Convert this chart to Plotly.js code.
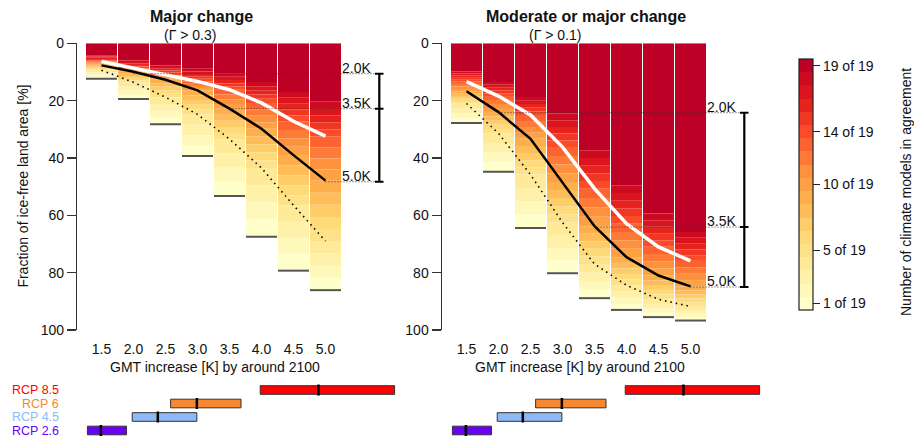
<!DOCTYPE html>
<html>
<head>
<meta charset="utf-8">
<script src="https://cdn.plot.ly/plotly-3.0.1.min.js"></script>
<style>html,body{margin:0;padding:0;background:#fff;}#chart{width:914px;height:441px;}</style>
</head>
<body>
<div id="chart"></div>
<script>
// ---------------- DATA ----------------
const gmt = [1.5, 2.0, 2.5, 3.0, 3.5, 4.0, 4.5, 5.0];
const gmtLabels = ['1.5', '2.0', '2.5', '3.0', '3.5', '4.0', '4.5', '5.0'];
const agreeLevels = [19,18,17,16,15,14,13,12,11,10,9,8,7,6,5,4,3,2,1];
const agreeTickVals = [1, 5, 10, 14, 19];
const agreeTickText = ['1 of 19', '5 of 19', '10 of 19', '14 of 19', '19 of 19'];

// Depth (fraction of land area, %) down to which at least k of 19 models agree (k = 19..1), per GMT column
const majorDepth = [
  [4.2,4.6,5.0,5.5,5.9,6.3,6.7,7.0,7.4,7.7,8.0,8.4,8.7,9.1,9.4,10.2,10.9,11.7,12.4],
  [6.0,6.5,7.0,7.6,8.1,8.6,8.9,9.3,9.6,9.9,10.6,11.4,12.1,12.9,13.6,15.1,16.5,18.0,19.4],
  [7.7,8.3,8.9,9.5,10.1,10.7,11.2,11.7,12.2,12.7,13.9,15.1,16.4,17.6,18.8,21.2,23.5,25.9,28.2],
  [8.9,9.8,10.7,11.5,12.4,13.3,14.1,14.9,15.6,16.4,18.1,19.8,21.4,23.1,24.8,28.4,32.1,35.7,39.3],
  [10.6,11.7,12.8,14.0,15.1,16.2,17.9,19.5,21.2,22.8,24.9,27.0,29.2,31.3,33.4,38.4,43.4,48.3,53.3],
  [13.5,15.0,16.4,17.9,19.3,20.8,23.1,25.3,27.6,29.8,32.5,35.3,38.0,40.8,43.5,49.5,55.5,61.5,67.5],
  [17.0,19.0,21.1,23.1,25.2,27.2,30.2,33.1,36.1,39.0,42.5,46.0,49.5,53.0,56.5,62.2,67.9,73.6,79.3],
  [20.2,22.6,25.1,27.5,30.0,32.4,36.3,40.2,44.0,47.9,52.1,56.3,60.6,64.8,69.0,73.3,77.6,81.8,86.1]
];
const modDepth = [
  [9.8,10.5,11.2,12.0,12.7,13.4,14.2,15.1,15.9,16.7,17.6,18.4,19.3,20.1,21.0,22.7,24.4,26.1,27.8],
  [13.5,14.5,15.5,16.4,17.4,18.4,19.8,21.2,22.6,24.0,25.5,27.0,28.4,29.9,31.4,34.8,38.1,41.5,44.8],
  [18.7,20.0,21.2,22.5,23.7,25.0,27.1,29.2,31.2,33.3,35.8,38.3,40.8,43.3,45.8,50.5,55.1,59.8,64.4],
  [24.5,26.8,29.2,31.5,33.9,36.2,39.3,42.3,45.4,48.4,51.2,54.0,56.9,59.7,62.5,66.9,71.4,75.8,80.2],
  [37.3,40.0,42.7,45.3,48.0,50.7,54.0,57.2,60.5,63.8,66.4,69.1,71.7,74.4,77.0,80.0,82.9,85.9,88.9],
  [49.5,52.2,54.9,57.5,60.2,62.9,65.8,68.7,71.7,74.6,76.6,78.5,80.5,82.4,84.4,86.6,88.7,90.9,93.0],
  [59.4,61.7,64.0,66.4,68.7,71.0,73.5,76.0,78.5,81.0,82.7,84.3,86.0,87.6,89.3,90.9,92.4,94.0,95.5],
  [65.8,67.8,69.9,71.9,73.9,75.9,78.1,80.4,82.6,84.8,86.2,87.6,89.0,90.4,91.8,93.0,94.2,95.5,96.7]
];

const majorWhite  = [6.3, 8.6, 10.7, 13.3, 16.2, 20.8, 27.2, 32.4];
const majorBlack  = [7.7, 9.9, 12.7, 16.4, 22.8, 29.8, 39.0, 47.9];
const majorDotted = [9.4, 13.6, 18.8, 24.8, 33.4, 43.5, 56.5, 69.0];
const modWhite    = [13.4, 18.4, 25.0, 36.2, 50.7, 62.9, 71.0, 75.9];
const modBlack    = [16.7, 24.0, 33.3, 48.4, 63.8, 74.6, 81.0, 84.8];
const modDotted   = [21.0, 31.4, 45.8, 62.5, 77.0, 84.4, 89.3, 91.8];

const levelGmt = [2.0, 3.5, 5.0];
const levelLabels = ['2.0K', '3.5K', '5.0K'];
const majorLevels = [10.6, 22.8, 48.3];
const modLevels = [24.2, 64.1, 85.0];

const rcpNames = ['RCP 2.6', 'RCP 4.5', 'RCP 6', 'RCP 8.5'];
const rcpLow  = [1.28, 1.98, 2.58, 3.98];
const rcpHigh = [1.89, 2.99, 3.68, 6.08];
const rcpMid  = [1.49, 2.38, 2.99, 4.89];
const rcpColors = ['#6A00F5', '#8DBAF7', '#F8882F', '#FF0000'];

// ---------------- STYLE ----------------
const FONT = 'Liberation Sans, Arial, Helvetica, sans-serif';
const W = 914, H = 441;
const palette = ['#FFFFCC','#FFEDA0','#FED976','#FEB24C','#FD8D3C','#FC4E2A','#E31A1C','#BD0026'];
function hex2rgb(h){return [parseInt(h.slice(1,3),16),parseInt(h.slice(3,5),16),parseInt(h.slice(5,7),16)];}
function ramp(t){
  const s = t*(palette.length-1); const i = Math.min(Math.floor(s), palette.length-2); const f = s-i;
  const a = hex2rgb(palette[i]), b = hex2rgb(palette[i+1]);
  return 'rgb(' + a.map((v,j)=>Math.round(v+(b[j]-v)*f)).join(',') + ')';
}
const colorscale = [];
for (let i = 0; i < 19; i++) { const c = ramp(i/18); colorscale.push([i/19, c]); colorscale.push([(i+1)/19, c]); }

const xL = 1.5 - (101.5-77)/64, xR = 1.5 + (400-101.5)/64;
const xL2 = 1.5 - (466.5-441.7)/64;
const yDom = [1-330/H, 1-43.3/H];
const bDom = [1-437.25/H, 1-383.25/H];
const brX = 1.5 + (379.3-101.5)/64;
const brX0 = 1.5 + (375-101.5)/64;
const brX1 = 1.5 + (383.5-101.5)/64;
const lblX = 1.5 + (373-101.5)/64;

function bandTrace(depths, xa, ya, showscale){
  const x=[], base=[], y=[], c=[];
  depths.forEach((col, j) => col.forEach((d, i) => {
    const top = i === 0 ? 0 : col[i-1];
    x.push(gmt[j]); base.push(top); y.push(d - top); c.push(agreeLevels[i]);
  }));
  return {type:'bar', x, y, base, width: 31/64, xaxis: xa, yaxis: ya, hoverinfo:'skip', showlegend:false,
    marker:{color:c, colorscale, cmin:0.5, cmax:19.5, line:{width:0}, showscale,
      colorbar: {x: 799/W, xanchor:'left', xpad:0, ypad:0, thickness:13.7, thicknessmode:'pixels',
        len:251, lenmode:'pixels', y: 1-184.5/H, yanchor:'middle', outlinewidth:1.2, outlinecolor:'#222',
        tickvals: agreeTickVals, ticktext: agreeTickText, ticks:'outside', ticklen:7, tickcolor:'#222',
        tickfont:{family:FONT, size:14, color:'#111'}}}};
}
function panelTraces(depths, white, black, dotted, levels, xa, ya, showscale){
  const tr = [bandTrace(depths, xa, ya, showscale)];
  tr.push({type:'scatter', mode:'markers', x: gmt, y: depths.map(c=>c[c.length-1]), xaxis:xa, yaxis:ya,
    marker:{symbol:'line-ew', size:31/1.4, line:{width:2, color:'#555'}}, hoverinfo:'skip', showlegend:false});
  tr.push({type:'scatter', mode:'lines', x: gmt, y: dotted, xaxis:xa, yaxis:ya, line:{color:'#000', width:1.6, dash:'1.5px,4px'}, hoverinfo:'skip', showlegend:false});
  tr.push({type:'scatter', mode:'lines', x: gmt, y: white, xaxis:xa, yaxis:ya, line:{color:'#fff', width:3.5}, hoverinfo:'skip', showlegend:false});
  tr.push({type:'scatter', mode:'lines', x: gmt, y: black, xaxis:xa, yaxis:ya, line:{color:'#000', width:2.5}, hoverinfo:'skip', showlegend:false});
  const lx=[], ly=[], tx=[], ty=[];
  levels.forEach((v,i)=>{ lx.push(levelGmt[i], brX0, null); ly.push(v, v, null); tx.push(brX0, brX1, null); ty.push(v, v, null); });
  tr.push({type:'scatter', mode:'lines', x: lx, y: ly, xaxis:xa, yaxis:ya, line:{color:'#333', width:1, dash:'1px,2px'}, hoverinfo:'skip', showlegend:false});
  tr.push({type:'scatter', mode:'lines', x: tx, y: ty, xaxis:xa, yaxis:ya, line:{color:'#000', width:2}, hoverinfo:'skip', showlegend:false});
  tr.push({type:'scatter', mode:'lines', x: [brX, brX], y: [levels[0], levels[levels.length-1]], xaxis:xa, yaxis:ya, line:{color:'#000', width:2.2}, hoverinfo:'skip', showlegend:false});
  return tr;
}
function rcpTraces(xa, ya){
  return [
    {type:'bar', orientation:'h', y: rcpNames.map((n,i)=>i), x: rcpHigh.map((h,i)=>h-rcpLow[i]), base: rcpLow, width:0.64,
      xaxis:xa, yaxis:ya, marker:{color: rcpColors, line:{color:'#333', width:1}}, hoverinfo:'skip', showlegend:false},
    {type:'scatter', mode:'markers', x: rcpMid, y: rcpNames.map((n,i)=>i), xaxis:xa, yaxis:ya,
      marker:{symbol:'line-ns', size:11/1.4, line:{width:2.5, color:'#000'}}, hoverinfo:'skip', showlegend:false}
  ];
}

const data = [].concat(
  panelTraces(majorDepth, majorWhite, majorBlack, majorDotted, majorLevels, 'x', 'y', true),
  panelTraces(modDepth, modWhite, modBlack, modDotted, modLevels, 'x2', 'y2', false),
  rcpTraces('x3', 'y3'),
  rcpTraces('x4', 'y4')
);

const xAxisBase = {showgrid:false, zeroline:false, showline:false, tickvals: gmt, ticktext: gmtLabels,
  ticks:'outside', ticklen:6, tickcolor:'rgba(0,0,0,0)', tickfont:{family:FONT, size:14, color:'#111'}, fixedrange:true};
const yAxisBase = {range:[100, 0], domain: yDom, showgrid:false, zeroline:false, showline:true, linecolor:'#333', linewidth:1.2,
  tickvals:[0,20,40,60,80,100], ticks:'outside', ticklen:9, tickwidth:1.2, tickcolor:'#333', tickfont:{family:FONT, size:14, color:'#111'}, fixedrange:true};
const hidden = {visible:false, showgrid:false, zeroline:false, fixedrange:true};

function pa(text, xpx, ypx, size, extra){
  return Object.assign({text, x:xpx/W, y:1-ypx/H, xref:'paper', yref:'paper', xanchor:'center', yanchor:'middle', showarrow:false,
    font:{family:FONT, size, color:'#111'}}, extra || {});
}
const annotations = [
  pa('<b>Major change</b>', 201, 16.5, 16),
  pa('(Γ > 0.3)', 190, 35, 14),
  pa('<b>Moderate or major change</b>', 585.8, 16.5, 16),
  pa('(Γ > 0.1)', 555, 35, 14),
  pa('Fraction of ice-free land area [%]', 23, 186.6, 14, {textangle:-90}),
  pa('Number of climate models in agreement', 906, 192, 14, {textangle:-90}),
  {text:'GMT increase [K] by around 2100', x:3.27, xref:'x', y:1-367/H, yref:'paper', xanchor:'center', yanchor:'middle', showarrow:false, font:{family:FONT, size:14, color:'#111'}},
  {text:'GMT increase [K] by around 2100', x:3.27, xref:'x2', y:1-367/H, yref:'paper', xanchor:'center', yanchor:'middle', showarrow:false, font:{family:FONT, size:14, color:'#111'}}
];
levelLabels.forEach((t,i)=>{
  annotations.push({text:t, x:lblX, xref:'x', y:majorLevels[i], yref:'y', xanchor:'right', yanchor:'middle', yshift:6, showarrow:false, font:{family:FONT, size:14, color:'#111'}});
  annotations.push({text:t, x:lblX, xref:'x2', y:modLevels[i], yref:'y2', xanchor:'right', yanchor:'middle', yshift:6, showarrow:false, font:{family:FONT, size:14, color:'#111'}});
});
rcpNames.forEach((n,i)=>{
  annotations.push({text:n, x:59.5/W, xref:'paper', xanchor:'right', y:i, yref:'y3', yanchor:'middle', borderpad:0, showarrow:false, font:{family:FONT, size:12.5, color:rcpColors[i]}});
});

const layout = {
  width: W, height: H, margin:{l:0, r:0, t:0, b:0}, paper_bgcolor:'#fff', plot_bgcolor:'rgba(0,0,0,0)',
  barmode:'overlay', showlegend:false, font:{family:FONT, color:'#111'},
  xaxis: Object.assign({}, xAxisBase, {domain:[77/W, 400/W], range:[xL, xR], anchor:'y'}),
  yaxis: Object.assign({}, yAxisBase, {anchor:'x'}),
  xaxis2: Object.assign({}, xAxisBase, {domain:[441.7/W, 765/W], range:[xL2, xR], anchor:'y2'}),
  yaxis2: Object.assign({}, yAxisBase, {anchor:'x2'}),
  xaxis3: Object.assign({}, hidden, {domain:[77/W, 400/W], range:[xL, xR], anchor:'y3'}),
  yaxis3: Object.assign({}, hidden, {domain:bDom, range:[-0.5, 3.5], anchor:'x3'}),
  xaxis4: Object.assign({}, hidden, {domain:[441.7/W, 765/W], range:[xL2, xR], anchor:'y4'}),
  yaxis4: Object.assign({}, hidden, {domain:bDom, range:[-0.5, 3.5], anchor:'x4'}),
  annotations
};
Plotly.newPlot('chart', data, layout, {staticPlot:true, displayModeBar:false});
</script>
</body>
</html>
